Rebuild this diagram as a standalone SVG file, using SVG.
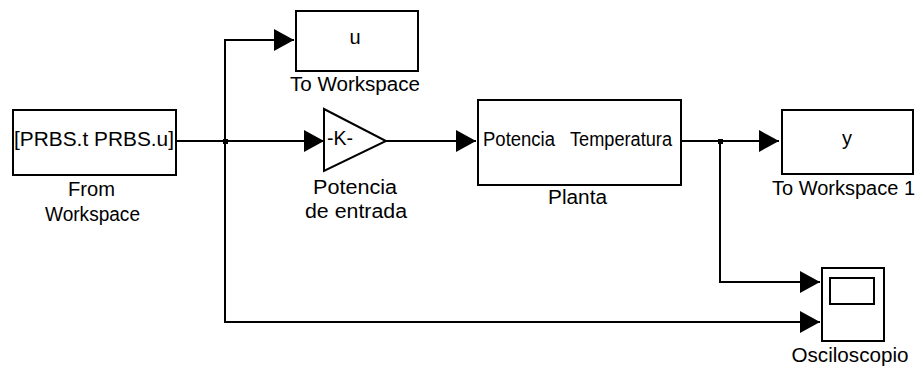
<svg xmlns="http://www.w3.org/2000/svg" width="919" height="366" viewBox="0 0 919 366">
<defs>
<style>
.blk{fill:#fff;stroke:#000;stroke-width:2}
.ln{fill:none;stroke:#000;stroke-width:2}
text{font-family:"Liberation Sans",Arial,sans-serif;font-size:20px;fill:#000}
.c{text-anchor:middle}
</style>
<marker id="ah" markerUnits="userSpaceOnUse" markerWidth="20" markerHeight="22" viewBox="0 0 20 22" refX="20" refY="11" orient="auto">
<path d="M0,0 L20,11 L0,22 Z" fill="#000"/>
</marker>
</defs>
<rect width="919" height="366" fill="#fff"/>
<g id="connectors">
<path class="ln" d="M176,141 H324" marker-end="url(#ah)"/>
<path class="ln" d="M225,141 V40 H294" marker-end="url(#ah)"/>
<path class="ln" d="M225,141 V322 H820" marker-end="url(#ah)"/>
<path class="ln" d="M386,141 H476" marker-end="url(#ah)"/>
<path class="ln" d="M681,141 H779" marker-end="url(#ah)"/>
<path class="ln" d="M720,141 V282 H820" marker-end="url(#ah)"/>
<rect x="223" y="139" width="5" height="5" fill="#000"/>
<rect x="718" y="139" width="5" height="5" fill="#000"/>
</g>
<g id="from_workspace">
<rect class="blk" x="13" y="110" width="163" height="65"/>
<text x="94" y="146" class="c" textLength="160" lengthAdjust="spacingAndGlyphs">[PRBS.t PRBS.u]</text>
<text x="91.5" y="196" class="c" textLength="47" lengthAdjust="spacingAndGlyphs">From</text>
<text x="92.5" y="221" class="c" textLength="95" lengthAdjust="spacingAndGlyphs">Workspace</text>
</g>
<g id="to_workspace">
<rect class="blk" x="296" y="11" width="122" height="60"/>
<text x="355" y="44" class="c">u</text>
<text x="355" y="91" class="c" textLength="130" lengthAdjust="spacingAndGlyphs">To Workspace</text>
</g>
<g id="gain">
<path class="blk" d="M324,109 L386,141 L324,171 Z"/>
<text x="340" y="145" class="c" textLength="26" lengthAdjust="spacingAndGlyphs">-K-</text>
<text x="355" y="194" class="c" textLength="84" lengthAdjust="spacingAndGlyphs">Potencia</text>
<text x="356" y="218" class="c" textLength="102" lengthAdjust="spacingAndGlyphs">de entrada</text>
</g>
<g id="planta">
<rect class="blk" x="478" y="100" width="203" height="85"/>
<text x="483" y="146" textLength="72" lengthAdjust="spacingAndGlyphs">Potencia</text>
<text x="570" y="146" textLength="102" lengthAdjust="spacingAndGlyphs">Temperatura</text>
<text x="577.5" y="204" class="c" textLength="59" lengthAdjust="spacingAndGlyphs">Planta</text>
</g>
<g id="to_workspace1">
<rect class="blk" x="782" y="110" width="131" height="64"/>
<text x="847" y="145" class="c">y</text>
<text x="843.5" y="195" class="c" textLength="143" lengthAdjust="spacingAndGlyphs">To Workspace 1</text>
</g>
<g id="osciloscopio">
<rect class="blk" x="822" y="268" width="62" height="73"/>
<rect class="blk" x="830" y="278" width="44" height="26"/>
<text x="850" y="362" class="c" textLength="117" lengthAdjust="spacingAndGlyphs">Osciloscopio</text>
</g>
</svg>
